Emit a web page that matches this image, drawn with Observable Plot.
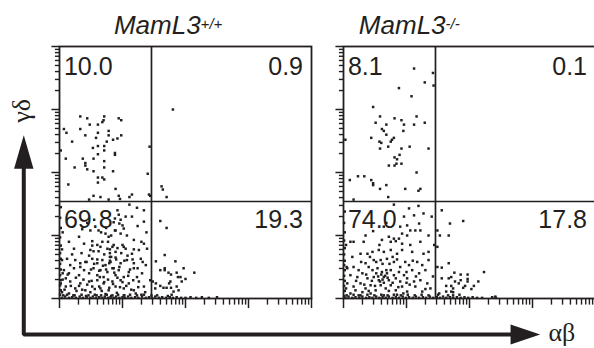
<!DOCTYPE html>
<html><head><meta charset="utf-8">
<script src="https://cdn.jsdelivr.net/npm/d3@7"></script>
<script src="https://cdn.jsdelivr.net/npm/@observablehq/plot@0.6"></script>
<style>
html,body{margin:0;padding:0;background:#fff;overflow:hidden;}
#chart{width:594px;height:348px;overflow:hidden;position:relative;}
#chart svg{display:block;}
</style></head><body><div id="chart"></div>
<script>
// ---- data: events as [log10 αβ, log10 γδ] ----
const genotypes = ["+/+", "-/-"];
const titleBase = "MamL3";
const quadrants = ["UL", "UR", "LL", "LR"];
const wtPercents = [10.0, 0.9, 69.8, 19.3];
const koPercents = [8.1, 0.1, 74.0, 17.8];
const gateAB = 1.46;
const gateGD = 1.54;
const decades = [0, 1, 2, 3, 4];
const minorSteps = [2, 3, 4, 5, 6, 7, 8, 9];
const axisNames = ["αβ", "γδ"];

const wtUpper = [[0.33,2.89],[0.44,2.86],[0.71,2.89],[0.70,2.83],[0.68,2.80],[0.61,2.76],[0.48,2.76],[0.94,2.86],[0.98,2.83],[0.07,2.69],[0.33,2.69],[0.11,2.63],[0.61,2.63],[0.78,2.66],[0.78,2.59],[0.41,2.59],[0.58,2.55],[0.98,2.59],[0.92,2.54],[0.85,2.52],[0.20,2.49],[0.75,2.49],[0.61,2.42],[0.53,2.39],[0.71,2.42],[0.71,2.35],[0.02,2.35],[0.88,2.31],[0.88,2.28],[0.61,2.29],[0.10,2.22],[0.37,2.22],[0.54,2.22],[0.71,2.18],[0.41,2.15],[0.41,2.11],[0.24,2.08],[0.71,2.08],[0.44,2.05],[0.54,2.02],[0.85,2.02],[1.40,1.98],[0.61,1.92],[0.68,1.92],[0.71,1.89],[0.61,1.84],[0.14,1.81],[0.89,1.74],[0.54,1.63],[0.65,1.61],[0.47,1.57],[0.78,1.57],[0.94,1.63],[0.96,1.58],[1.11,1.61],[1.15,1.65],[1.42,1.65],[1.43,2.41],[1.44,1.63],[1.80,3.00],[1.62,1.78],[1.64,1.73],[1.70,1.61]];
const wtLower = [[1.11,1.49],[0.92,1.40],[1.23,1.44],[1.34,1.40],[0.94,1.33],[0.88,1.27],[0.86,1.21],[0.95,1.19],[1.00,1.16],[1.34,1.22],[1.15,1.30],[0.31,0.98],[0.49,1.08],[0.62,1.08],[0.73,1.03],[0.78,0.98],[0.89,1.08],[0.97,1.03],[1.02,1.11],[1.07,1.00],[1.18,0.93],[1.34,0.87],[0.15,0.90],[0.39,0.87],[0.52,0.91],[0.60,0.85],[0.68,0.90],[0.49,0.77],[0.54,0.75],[0.62,0.75],[0.76,0.79],[0.84,0.82],[0.89,0.74],[1.00,0.85],[1.05,0.79],[1.15,0.71],[1.26,0.77],[1.39,0.79],[0.23,0.79],[0.04,0.61],[0.12,0.63],[0.25,0.61],[0.33,0.56],[0.41,0.58],[0.52,0.63],[0.60,0.56],[0.68,0.61],[0.73,0.53],[0.81,0.58],[0.89,0.65],[0.97,0.56],[1.07,0.61],[1.18,0.56],[1.29,0.63],[1.37,0.53],[0.17,0.53],[0.07,0.45],[0.15,0.40],[0.23,0.48],[0.31,0.37],[0.39,0.45],[0.47,0.40],[0.54,0.48],[0.60,0.37],[0.65,0.45],[0.70,0.34],[0.76,0.42],[0.84,0.48],[0.89,0.37],[0.94,0.45],[1.02,0.34],[1.10,0.42],[1.18,0.48],[1.23,0.34],[1.31,0.40],[0.10,0.32],[0.02,0.24],[0.10,0.19],[0.17,0.27],[0.25,0.16],[0.33,0.24],[0.41,0.13],[0.47,0.27],[0.52,0.19],[0.60,0.29],[0.65,0.16],[0.70,0.24],[0.78,0.13],[0.84,0.27],[0.89,0.19],[0.97,0.29],[1.02,0.16],[1.10,0.24],[1.18,0.13],[1.26,0.27],[1.34,0.19],[1.44,0.29],
[0.22,0.05],[0.27,0.12],[0.31,0.20],[0.36,0.14],[0.42,0.04],[0.44,0.22],[0.49,0.10],[0.51,0.28],[0.56,0.15],[0.59,0.05],[0.63,0.19],[0.64,0.34],[0.67,0.12],[0.71,0.26],[0.73,0.07],[0.77,0.30],[0.79,0.17],[0.82,0.04],[0.85,0.23],[0.87,0.41],[0.91,0.09],[0.92,0.33],[0.96,0.18],[1.00,0.26],[1.03,0.05],[1.06,0.20],[1.09,0.36],[1.14,0.14],[1.17,0.29],[1.21,0.08],[1.25,0.18],[1.30,0.06],[1.36,0.10],[0.15,0.08],[0.08,0.14],[0.05,0.30],[0.13,0.38],[0.18,0.20],[0.26,0.33],[0.33,0.50],[0.38,0.30],[0.43,0.58],[0.50,0.46],[0.55,0.55],[0.60,0.62],[0.63,0.44],[0.69,0.52],[0.74,0.46],[0.79,0.56],[0.82,0.66],[0.86,0.48],[0.90,0.62],[0.95,0.50],[0.98,0.72],[1.03,0.60],[1.08,0.68],[1.12,0.46],[1.16,0.62],[1.24,0.48],[1.32,0.58],[0.20,0.70],[0.35,0.72],[0.47,0.68],[0.52,0.84],[0.65,0.82],[0.71,0.70],[0.77,0.90],[0.86,0.85],[0.92,0.80],[1.02,0.82],[1.18,0.78],[1.30,0.90],[0.36,1.10],[0.44,1.20],[0.55,1.25],[0.66,1.05],[0.74,1.12],[0.82,1.00],[0.88,1.08],[0.97,1.25],[1.05,1.30],[1.24,1.15],[1.38,1.05],[0.80,0.60],[0.80,0.66],[0.80,0.72],[0.80,0.78],
[1.60,1.23],[1.70,1.12],[1.67,0.69],[1.53,0.59],[1.84,0.59],[1.60,0.45],[1.67,0.48],[1.67,0.45],[1.73,0.41],[1.77,0.38],[1.86,0.41],[1.97,0.48],[2.14,0.41],[1.88,0.34],[1.92,0.34],[2.00,0.31],[1.94,0.27],[1.76,0.27],[1.74,0.24],[1.48,0.27],[1.53,0.24],[1.60,0.20],[1.65,0.17],[1.70,0.17],[1.77,0.17],[1.52,0.16],[1.86,0.19],[1.89,0.13],[1.81,0.11],[1.46,0.05],[1.72,0.04]];
const wtAxisPile = [[0.04,0.01],[0.09,0.03],[0.15,0.01],[0.20,0.02],[0.26,0.01],[0.32,0.03],[0.37,0.01],[0.43,0.02],[0.49,0.01],[0.53,0.03],[0.58,0.01],[0.63,0.02],[0.68,0.01],[0.72,0.03],[0.77,0.01],[0.81,0.02],[0.86,0.01],[0.90,0.03],[0.95,0.01],[1.00,0.02],[1.04,0.01],[1.09,0.03],[1.14,0.01],[1.20,0.02],[1.25,0.01],[1.31,0.03],[1.37,0.01],[1.42,0.02],[1.47,0.01],[1.52,0.03],[1.58,0.01],[1.63,0.02],[1.69,0.01],[1.75,0.02],[1.80,0.01],[1.86,0.02],[1.93,0.01],[2.00,0.01],[2.08,0.02],[2.17,0.01],[2.26,0.02],[2.37,0.01],[2.50,0.02],[0.01,0.06],[0.02,0.13],[0.01,0.21],[0.02,0.29],[0.01,0.37],[0.02,0.46],[0.01,0.55],[0.02,0.63],[0.01,0.72],[0.02,0.84],[0.01,0.97],[0.02,1.12],[0.01,1.28],[0.02,1.45],
[0.06,0.05],[0.12,0.06],[0.24,0.05],[0.35,0.06],[0.46,0.05],[0.56,0.06],[0.66,0.05],[0.75,0.06],[0.84,0.05],[0.93,0.06],[1.02,0.05],[1.12,0.06],[1.23,0.05],[1.34,0.06],[1.55,0.05],[1.78,0.06],[0.04,0.10],[0.05,0.40],[0.04,0.78],[0.05,1.05]];

const koUpper = [[1.12,3.65],[1.42,3.58],[1.29,3.43],[1.43,3.38],[0.88,3.34],[1.08,3.21],[0.47,3.04],[0.58,2.89],[0.81,2.86],[1.16,2.89],[0.51,2.79],[0.68,2.76],[0.92,2.83],[0.96,2.76],[1.12,2.76],[1.29,2.79],[0.61,2.69],[0.64,2.66],[0.68,2.60],[0.95,2.66],[0.44,2.55],[0.80,2.55],[0.57,2.49],[0.60,2.47],[0.75,2.49],[0.77,2.52],[0.71,2.41],[0.58,2.38],[1.05,2.41],[0.92,2.38],[1.35,2.38],[0.03,2.52],[0.81,2.24],[0.85,2.21],[0.89,2.28],[0.72,2.11],[0.81,2.11],[0.84,2.14],[0.92,2.14],[1.16,2.00],[0.10,1.88],[0.23,1.94],[0.33,1.94],[0.44,1.88],[0.47,1.83],[0.47,1.80],[0.68,1.80],[0.58,1.74],[0.98,1.74],[1.19,1.71],[1.22,1.74],[0.71,1.61],[0.16,1.57]];
const koLower = [[0.80,1.49],[1.19,1.47],[1.04,1.43],[1.27,1.35],[1.12,1.32],[0.96,1.30],[1.40,1.30],[1.20,1.19],[1.01,1.16],[0.90,1.14],[1.06,1.08],[1.14,1.08],[1.22,1.08],[0.47,1.07],[0.64,1.14],[0.93,1.03],[0.35,1.00],[0.72,0.98],[0.80,0.95],[1.01,1.00],[1.35,1.00],[0.11,0.90],[0.16,0.90],[0.32,0.90],[0.61,0.93],[0.75,0.90],[0.83,0.91],[0.93,0.87],[1.06,0.85],[1.22,0.90],[0.56,0.77],[0.64,0.74],[0.75,0.77],[0.85,0.71],[0.93,0.77],[0.27,0.71],[0.38,0.71],[0.46,0.74],[1.09,0.74],[1.27,0.71],[1.35,0.74],[0.14,0.66],[0.48,0.61],[0.59,0.61],[0.69,0.63],[0.80,0.58],[0.98,0.58],[1.04,0.53],[1.17,0.58],[1.25,0.53],[1.35,0.61],[0.35,0.56],[0.40,0.50],[0.06,0.48],[0.16,0.50],[0.24,0.45],[0.46,0.45],[0.54,0.48],[0.61,0.42],[0.69,0.40],[0.75,0.45],[0.80,0.37],[0.88,0.42],[0.96,0.37],[1.09,0.45],[1.20,0.40],[1.30,0.45],[0.11,0.37],[0.22,0.34],[0.30,0.40],[0.38,0.32],[0.48,0.34],[0.56,0.29],[0.64,0.34],[0.72,0.29],[0.83,0.32],[0.90,0.27],[1.01,0.32],[1.12,0.27],[1.22,0.29],[1.33,0.24],[0.06,0.24],[0.16,0.19],[0.27,0.24],[0.35,0.16],[0.43,0.21],[0.51,0.13],[0.59,0.21],[0.67,0.16],[0.75,0.21],[0.83,0.13],[0.93,0.19],[1.01,0.11],[1.14,0.19],[1.25,0.11],[1.38,0.16],[0.11,0.08],[0.24,0.05],[0.43,0.08],[0.64,0.05],[0.85,0.06],
[0.55,0.35],[0.60,0.38],[0.62,0.30],[0.66,0.36],[0.70,0.33],[0.58,0.27],[0.64,0.25],[0.52,0.40],[0.68,0.45],[0.45,0.28],[0.78,0.25],[0.87,0.18],[0.40,0.12],[0.30,0.10],[0.20,0.28],[0.95,0.08],[1.05,0.22],[0.73,0.55],[0.85,0.62],[0.52,0.58],[0.42,0.66],[1.00,0.42],[0.90,0.50],[1.15,0.35],[0.33,0.22],[0.19,0.13],[0.50,0.20],[0.72,0.12],[0.62,0.55],[0.78,0.66],[1.10,0.60],[0.28,0.58],[0.57,0.85],[0.88,0.95],[0.68,1.20],[1.30,0.15],[1.42,0.35],[1.44,0.85],[1.00,0.25],[0.36,0.38],
[1.56,1.40],[1.69,1.19],[1.90,1.23],[1.49,1.08],[1.49,0.82],[1.53,1.00],[1.67,1.00],[1.67,0.56],[1.56,0.49],[1.49,0.50],[2.23,0.42],[1.76,0.41],[1.86,0.38],[1.97,0.38],[1.56,0.32],[1.67,0.32],[1.71,0.34],[1.77,0.27],[1.86,0.29],[1.83,0.24],[1.97,0.31],[1.97,0.27],[2.14,0.27],[1.93,0.20],[2.07,0.20],[2.03,0.15],[1.90,0.17],[1.63,0.20],[1.71,0.20],[1.74,0.16],[1.74,0.10],[1.74,0.05],[1.52,0.08],[1.63,0.11],[1.71,0.11],[2.41,0.03]];
const koAxisPile = [[0.03,0.01],[0.08,0.03],[0.14,0.01],[0.19,0.02],[0.25,0.01],[0.30,0.03],[0.36,0.01],[0.41,0.02],[0.46,0.01],[0.52,0.03],[0.57,0.01],[0.62,0.02],[0.67,0.01],[0.72,0.03],[0.78,0.01],[0.83,0.02],[0.88,0.01],[0.94,0.03],[0.99,0.01],[1.04,0.02],[1.10,0.01],[1.15,0.03],[1.20,0.01],[1.26,0.02],[1.31,0.01],[1.37,0.03],[1.42,0.01],[1.48,0.02],[1.53,0.01],[1.58,0.03],[1.63,0.01],[1.69,0.02],[1.74,0.01],[1.80,0.02],[1.86,0.01],[1.92,0.02],[1.98,0.01],[2.05,0.02],[2.12,0.01],[2.20,0.01],[2.36,0.02],[2.42,0.01],[0.01,0.04],[0.02,0.12],[0.01,0.20],[0.02,0.28],[0.01,0.36],[0.02,0.45],[0.01,0.53],[0.02,0.60],[0.01,0.70],[0.02,0.80],[0.01,0.92],[0.02,1.05],[0.01,1.20],[0.02,1.38],
[0.05,0.05],[0.16,0.06],[0.27,0.05],[0.38,0.06],[0.49,0.05],[0.60,0.06],[0.70,0.05],[0.80,0.06],[0.91,0.05],[1.02,0.06],[1.13,0.05],[1.24,0.06],[1.35,0.05],[1.50,0.06],[1.66,0.05],[1.84,0.06],[0.04,0.16],[0.05,0.50],[0.04,0.85]];

// ---- build tables ----
const ink = "#231f20";
const toRows = (g, arr) => arr.map(([ab, gd]) => ({g, ab, gd}));
const events = [
  ...toRows("+/+", wtUpper), ...toRows("+/+", wtLower), ...toRows("+/+", wtAxisPile),
  ...toRows("-/-", koUpper), ...toRows("-/-", koLower), ...toRows("-/-", koAxisPile)
];
const percentRows = [
  ...quadrants.map((q, i) => ({g: "+/+", q, v: wtPercents[i]})),
  ...quadrants.map((q, i) => ({g: "-/-", q, v: koPercents[i]}))
];
const leftPercents = percentRows.filter(d => d.q[1] === "L");
const rightPercents = percentRows.filter(d => d.q[1] === "R");
const majorTicks = decades.map(v => ({v}));
const minorTicks = decades.slice(0, -1).flatMap(d => minorSteps.map(k => ({v: d + Math.log10(k)})));
const titleRows = [
  {g: "+/+", name: titleBase, sup: genotypes[0], end: 2.24},
  {g: "-/-", name: titleBase, sup: genotypes[1], end: 1.62}
];

// axis arrows (drawn in the first panel's coordinates, extending outside it)
const ax = -0.567, ay = -0.571;
const shaft = [{x: ax, y: 2.1}, {x: ax, y: ay}, {x: 7.2, y: ay}].map(d => ({...d, g: "+/+"}));
const heads = [
  {id: "v", x: ax - 0.154, y: 2.06}, {id: "v", x: ax, y: 2.59}, {id: "v", x: ax + 0.154, y: 2.06},
  {id: "h", x: 7.16, y: ay + 0.159}, {id: "h", x: 7.63, y: ay}, {id: "h", x: 7.16, y: ay - 0.159}
].map(d => ({...d, g: "+/+"}));

const sans = "'Liberation Sans', Arial, Helvetica, sans-serif";
const serif = "'Liberation Serif', 'Times New Roman', serif";
const yTop = d => d.q[0] === "U" ? 3.825 : 1.397;

const chart = Plot.plot({
  width: 594, height: 348,
  marginLeft: 59, marginRight: -1, marginTop: 46, marginBottom: 50,
  style: {fontFamily: sans, background: "transparent", overflow: "visible"},
  x: {domain: [0, 4], axis: null},
  y: {domain: [0, 4], axis: null},
  fx: {domain: genotypes, axis: null, paddingInner: 32 / 284, paddingOuter: 0},
  marks: [
    Plot.dot(events, {x: "ab", y: "gd", fx: "g", symbol: "square", r: 1.4, fill: ink, stroke: "none"}),
    Plot.frame({stroke: ink, strokeWidth: 1.8}),
    Plot.ruleX([gateAB], {stroke: ink, strokeWidth: 1.7}),
    Plot.ruleY([gateGD], {stroke: ink, strokeWidth: 1.7}),
    Plot.ruleX(majorTicks, {x: "v", y1: 0, y2: -0.16, stroke: ink, strokeWidth: 1.5}),
    Plot.ruleX(minorTicks, {x: "v", y1: 0, y2: -0.105, stroke: ink, strokeWidth: 1.4}),
    Plot.ruleY(majorTicks, {y: "v", x1: 0, x2: -0.12, stroke: ink, strokeWidth: 1.5}),
    Plot.ruleY(minorTicks, {y: "v", x1: 0, x2: -0.065, stroke: ink, strokeWidth: 1.4}),
    Plot.text(leftPercents, {fx: "g", x: 0.07, y: yTop, text: d => d.v.toFixed(1),
      textAnchor: "start", lineAnchor: "top", fontSize: 25, fill: ink}),
    Plot.text(rightPercents, {fx: "g", x: 3.865, y: yTop, text: d => d.v.toFixed(1),
      textAnchor: "end", lineAnchor: "top", fontSize: 25, fill: ink}),
    Plot.text(titleRows, {fx: "g", x: "end", y: 4.49, text: "name", textAnchor: "end", lineAnchor: "top",
      fontSize: 26, fontStyle: "italic", fill: ink}),
    Plot.text(titleRows, {fx: "g", x: "end", y: 4.446, text: "sup", textAnchor: "start", lineAnchor: "top",
      fontSize: 15, fontStyle: "italic", fill: ink}),
    Plot.line(shaft, {fx: "g", x: "x", y: "y", stroke: ink, strokeWidth: 4, strokeLinejoin: "miter"}),
    Plot.line(heads, {fx: "g", x: "x", y: "y", z: "id", fill: ink, stroke: "none"}),
    Plot.text([{g: "+/+", t: axisNames[0]}], {fx: "g", x: 7.76, y: -0.54, text: "t", textAnchor: "start",
      fontSize: 26, fontFamily: serif, fill: ink}),
    Plot.text([{g: "+/+", t: axisNames[1]}], {fx: "g", x: -0.6, y: 2.98, text: "t", rotate: -90,
      fontSize: 26, fontFamily: serif, fill: ink})
  ]
});
document.getElementById("chart").appendChild(chart);
</script></body></html>
